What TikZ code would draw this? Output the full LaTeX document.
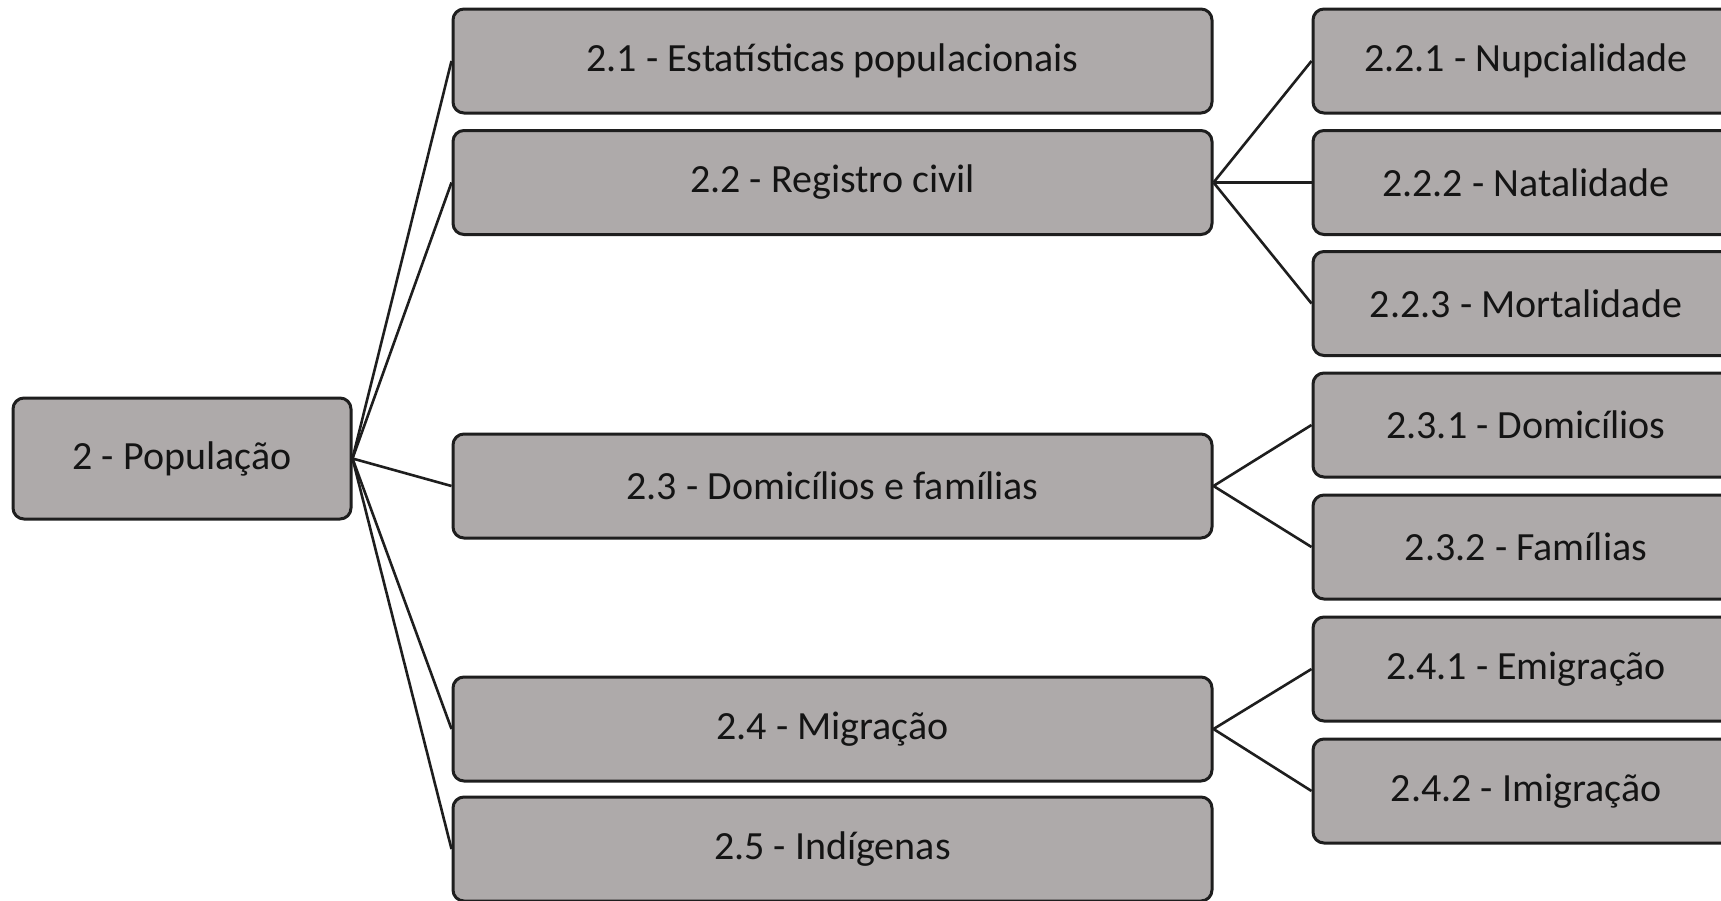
\documentclass[tikz,border=0pt]{standalone}
\usepackage{fontspec}
\setmainfont{Carlito}
\definecolor{boxfill}{HTML}{AEAAAA}
\definecolor{boxline}{HTML}{1E1E1E}
\definecolor{txt}{HTML}{141414}
\begin{document}
\begin{tikzpicture}[x=1pt,y=-1pt,
  box/.style={draw=boxline,line width=3pt,fill=boxfill,rounded corners=11pt,
    text=txt,font=\fontsize{40}{44}\selectfont,inner sep=0pt},
  rootbox/.style={box,minimum width=338pt,minimum height=121pt},
  midbox/.style={box,minimum width=759pt,minimum height=104pt},
  rightbox/.style={box,minimum width=430pt,minimum height=104pt},
  link/.style={draw=boxline,line width=2.6pt}]
\useasboundingbox (0,0) rectangle (1721,900);
\fill[white] (0,0) rectangle (1721,900);
% root
\node[rootbox] (r) at (182,458.5) {2 - População};
% middle column
\node[midbox] (m1) at (832.5,61) {2.1 - Estatísticas populacionais};
\node[midbox] (m2) at (832.5,182.5) {2.2 - Registro civil};
\node[midbox] (m3) at (832.5,486) {2.3 - Domicílios e famílias};
\node[midbox] (m4) at (832.5,729) {2.4 - Migração};
\node[midbox] (m5) at (832.5,849) {2.5 - Indígenas};
% right column
\node[rightbox] (a1) at (1528,61) {\hspace*{-4pt}2.2.1 - Nupcialidade};
\node[rightbox] (a2) at (1528,182.5) {\hspace*{-4pt}2.2.2 - Natalidade};
\node[rightbox] (a3) at (1528,303.5) {\hspace*{-4pt}2.2.3 - Mortalidade};
\node[rightbox] (b1) at (1528,425) {\hspace*{-4pt}2.3.1 - Domicílios};
\node[rightbox] (b2) at (1528,547) {\hspace*{-4pt}2.3.2 - Famílias};
\node[rightbox] (c1) at (1528,669) {\hspace*{-4pt}2.4.1 - Emigração};
\node[rightbox] (c2) at (1528,791) {\hspace*{-4pt}2.4.2 - Imigração};
% connectors
\foreach \t in {m1,m2,m3,m4,m5} \draw[link] (r.east) -- (\t.west);
\foreach \t in {a1,a2,a3} \draw[link] (m2.east) -- (\t.west);
\foreach \t in {b1,b2} \draw[link] (m3.east) -- (\t.west);
\foreach \t in {c1,c2} \draw[link] (m4.east) -- (\t.west);
\end{tikzpicture}
\end{document}
